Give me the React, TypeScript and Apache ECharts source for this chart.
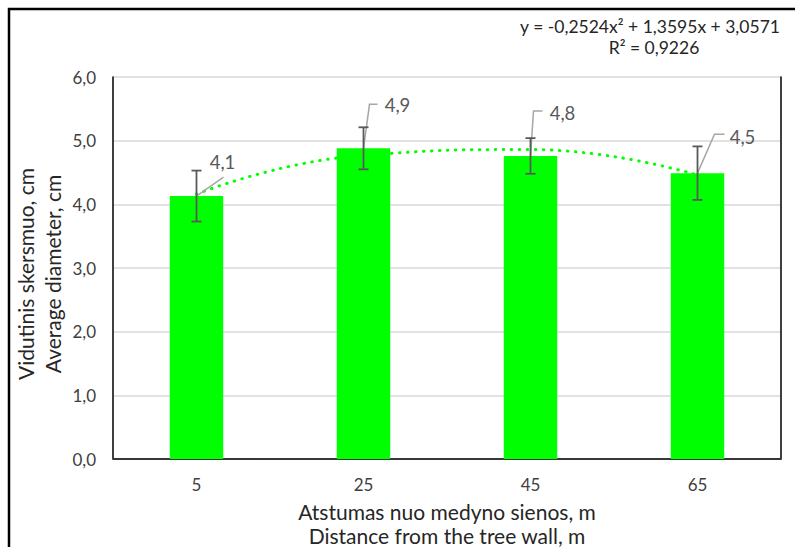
import React, { useEffect, useRef } from "react";
import * as echarts from "echarts";

const categories = ["5", "25", "45", "65"];
const meanValues = [4.13, 4.88, 4.76, 4.49];
const errorValues = [0.4, 0.33, 0.28, 0.42];
const trendValues = [4.16, 4.77, 4.86, 4.46];
const equationLines = ["y = -0,2524x² + 1,3595x + 3,0571", "R² = 0,9226"];
const yAxisTitle = "Vidutinis skersmuo, cm\nAverage diameter, cm";
const xAxisTitle = "Atstumas nuo medyno sienos, m\nDistance from the tree wall, m";

// label layout (pixel offsets relative to the data point): leader points and label centre
const labelLayouts = [
  { leader: [[27, -19]], center: [26, -34] },
  { leader: [[6, -44], [14, -44]], center: [34, -43] },
  { leader: [[3, -45], [12, -45]], center: [32, -43] },
  { leader: [[17, -39], [27, -39]], center: [45, -36] },
];

const FONT = "Lato, 'Open Sans', sans-serif";
const fmt = (v: number) => v.toFixed(1).replace(".", ",");

export default function App() {
  const ref = useRef<HTMLDivElement>(null);
  useEffect(() => {
    if (!ref.current) return;
    const chart = echarts.init(ref.current, undefined, { renderer: "svg" });
    const customData = meanValues.map((v, i) => [i, v, errorValues[i]]);
    chart.setOption({
      animation: false,
      backgroundColor: "#fff",
      textStyle: { fontFamily: FONT },
      grid: {
        left: 113,
        width: 668,
        top: 77,
        height: 382,
        containLabel: false,
        outerBoundsMode: "none",
      },
      graphic: [
        {
          type: "rect",
          shape: { x: 9, y: 9, width: 900, height: 900 },
          style: { fill: "none", stroke: "#000", lineWidth: 2.5 },
          silent: true,
        },
        {
          type: "text",
          x: 650,
          y: 26,
          style: {
            text: equationLines[0],
            align: "center",
            verticalAlign: "middle",
            fontSize: 17.5,
            fontFamily: FONT,
            fill: "#262626",
          },
        },
        {
          type: "text",
          x: 654,
          y: 47,
          style: {
            text: equationLines[1],
            align: "center",
            verticalAlign: "middle",
            fontSize: 17.5,
            fontFamily: FONT,
            fill: "#262626",
          },
        },
      ],
      xAxis: [
        {
          type: "category",
          data: categories,
          position: "bottom",
          axisLine: { show: true, lineStyle: { color: "#d9d9d9", width: 1.5 } },
          axisTick: { show: false },
          axisLabel: { color: "#404040", fontSize: 17, margin: 17, fontFamily: FONT },
          name: xAxisTitle,
          nameLocation: "middle",
          nameGap: 40,
          nameMoveOverlap: false,
          nameTextStyle: {
            color: "#262626",
            fontSize: 21,
            lineHeight: 24,
            fontFamily: FONT,
            verticalAlign: "top",
          },
        },
        {
          type: "category",
          data: categories,
          position: "top",
          axisLine: { show: true, lineStyle: { color: "#000", width: 1.5 } },
          axisTick: { show: false },
          axisLabel: { show: false },
        },
      ],
      yAxis: [
        {
          type: "value",
          min: 0,
          max: 6,
          interval: 1,
          position: "left",
          axisLine: { show: true, lineStyle: { color: "#000", width: 1.5 } },
          axisTick: { show: false },
          axisLabel: {
            color: "#404040",
            fontSize: 17,
            margin: 17,
            fontFamily: FONT,
            formatter: (v: number) => fmt(v),
          },
          splitLine: { show: true, lineStyle: { color: "#d9d9d9", width: 1.5 } },
          name: yAxisTitle,
          nameLocation: "middle",
          nameRotate: 90,
          nameGap: 47,
          nameMoveOverlap: false,
          nameTextStyle: {
            color: "#262626",
            fontSize: 21,
            lineHeight: 27,
            fontFamily: FONT,
            padding: [0, 12, 0, 0],
          },
        },
        {
          type: "value",
          min: 0,
          max: 6,
          interval: 1,
          position: "right",
          axisLine: { show: true, lineStyle: { color: "#000", width: 1.5 } },
          axisTick: { show: false },
          axisLabel: { show: false },
          splitLine: { show: false },
        },
      ],
      series: [
        {
          type: "line",
          data: trendValues,
          smooth: 0.5,
          symbol: "none",
          z: 1,
          lineStyle: { color: "#00ff00", width: 3, type: [0.5, 7.5], cap: "round" },
        },
        {
          type: "bar",
          data: meanValues,
          barWidth: "32%",
          z: 2,
          itemStyle: { color: "#00ff00" },
        },
        {
          type: "custom",
          z: 3,
          clip: false,
          data: customData,
          encode: { x: 0, y: 1 },
          renderItem: (params: any, api: any) => {
            const idx = api.value(0);
            const val = api.value(1);
            const err = api.value(2);
            const top = api.coord([idx, val + err]);
            const bot = api.coord([idx, val - err]);
            const pt = api.coord([idx, val]);
            const cap = 5;
            const lay = labelLayouts[params.dataIndex];
            const leaderPts = [[pt[0], pt[1]]].concat(
              lay.leader.map((o) => [pt[0] + o[0], pt[1] + o[1]])
            );
            const errStyle = { stroke: "#595959", lineWidth: 1.8 };
            return {
              type: "group",
              children: [
                {
                  type: "polyline",
                  shape: { points: leaderPts },
                  style: { stroke: "#a6a6a6", lineWidth: 1.5, fill: "none" },
                },
                {
                  type: "line",
                  shape: { x1: top[0], y1: top[1], x2: bot[0], y2: bot[1] },
                  style: errStyle,
                },
                {
                  type: "line",
                  shape: { x1: top[0] - cap, y1: top[1], x2: top[0] + cap, y2: top[1] },
                  style: errStyle,
                },
                {
                  type: "line",
                  shape: { x1: bot[0] - cap, y1: bot[1], x2: bot[0] + cap, y2: bot[1] },
                  style: errStyle,
                },
                {
                  type: "text",
                  x: pt[0] + lay.center[0],
                  y: pt[1] + lay.center[1],
                  style: {
                    text: fmt(val),
                    align: "center",
                    verticalAlign: "middle",
                    fontSize: 18.5,
                    fontFamily: FONT,
                    fill: "#595959",
                  },
                },
              ],
            };
          },
        },
      ],
    });
    return () => chart.dispose();
  }, []);
  return (
    <div
      ref={ref}
      style={{ position: "fixed", left: 0, top: 0, width: 795, height: 547 }}
    />
  );
}
